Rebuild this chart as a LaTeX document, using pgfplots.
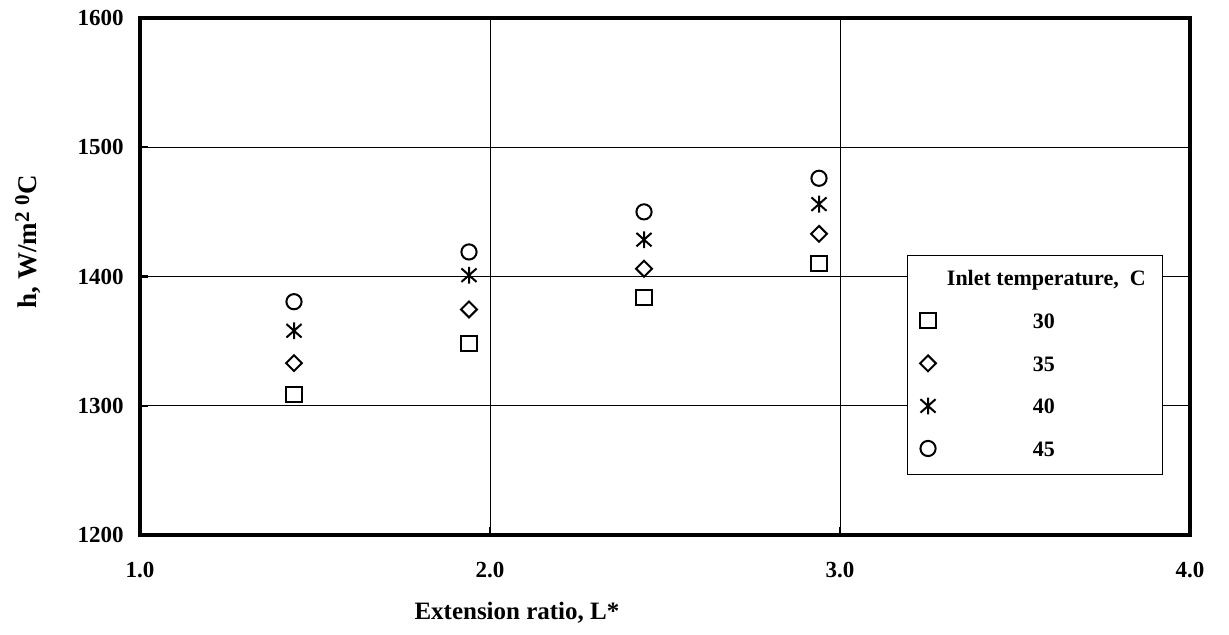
\documentclass[border=0pt]{standalone}
\usepackage{pgfplots}
\pgfplotsset{compat=1.18}
\usepackage{fontspec}
\setmainfont{Liberation Serif}
\pgfdeclareplotmark{xstar}{%
  \pgfpathmoveto{\pgfqpoint{0pt}{\pgfplotmarksize}}%
  \pgfpathlineto{\pgfqpoint{0pt}{-\pgfplotmarksize}}%
  \pgfpathmoveto{\pgfqpoint{-0.9\pgfplotmarksize}{0.8\pgfplotmarksize}}%
  \pgfpathlineto{\pgfqpoint{0.9\pgfplotmarksize}{-0.8\pgfplotmarksize}}%
  \pgfpathmoveto{\pgfqpoint{-0.9\pgfplotmarksize}{-0.8\pgfplotmarksize}}%
  \pgfpathlineto{\pgfqpoint{0.9\pgfplotmarksize}{0.8\pgfplotmarksize}}%
  \pgfusepathqstroke}
\newcommand{\sups}[1]{\raisebox{0.6ex}{\fontsize{10.5}{11}\selectfont #1}}
\begin{document}
\begin{tikzpicture}
\begin{axis}[
  scale only axis, width=525pt, height=258.5pt,
  xmin=1, xmax=4, ymin=1200, ymax=1600,
  xtick={1,2,3,4}, ytick={1200,1300,1400,1500,1600},
  grid=major, grid style={black, line width=0.5pt},
  axis line style={line width=2pt},
  tick pos=left, tick align=inside, major tick length=4pt,
  tick style={black, line width=1.2pt},
  /pgf/number format/assume math mode=true,
  tick label style={font=\fontsize{11.5}{13}\selectfont\bfseries},
  xticklabel style={/pgf/number format/.cd, fixed, fixed zerofill, precision=1, /tikz/.cd, yshift=-10pt},
  yticklabel style={/pgf/number format/1000 sep={}, xshift=-4.7pt},
  xlabel={Extension ratio, L*},
  xlabel style={font=\fontsize{12.5}{14}\selectfont\bfseries, at={(axis description cs:0.359,0)}, anchor=north, yshift=-30pt},
  ylabel={h, W/m\sups{2}\ \sups{0}C},
  ylabel style={font=\fontsize{13.5}{14}\selectfont\bfseries, at={(axis description cs:-0.1067,0.567)}, anchor=center},
  legend style={at={(axis cs:3.19,1416.6)}, anchor=north west, draw=black, line width=0.6pt, fill=white,
    inner xsep=6.5pt, inner ysep=5.5pt, row sep=8.5pt, column sep=3.5pt,
    font=\fontsize{11}{13}\selectfont\bfseries, cells={anchor=west}},
  legend image code/.code={\draw[#1] plot coordinates {(0pt,1pt)};},
  every axis plot/.append style={only marks, black, mark options={line width=1pt, fill=white}},
]
\addlegendimage{empty legend}
\addlegendentry{Inlet temperature,\ \ C}
\addplot[mark=square, mark size=3.8pt] coordinates {(1.44,1308.5) (1.94,1348) (2.44,1384) (2.94,1410)};
\addlegendentry{\hspace*{43pt}30}
\addplot[mark=square, mark size=2.8pt, mark options={rotate=45, line width=1pt}] coordinates {(1.44,1333) (1.94,1374.5) (2.44,1406) (2.94,1433)};
\addlegendentry{\hspace*{43pt}35}
\addplot[mark=xstar, mark size=4.2pt] coordinates {(1.44,1358) (1.94,1401) (2.44,1428.5) (2.94,1456)};
\addlegendentry{\hspace*{43pt}40}
\addplot[mark=o, mark size=3.8pt] coordinates {(1.44,1380.5) (1.94,1419) (2.44,1450) (2.94,1476)};
\addlegendentry{\hspace*{43pt}45}
\end{axis}
\pgfresetboundingbox
\path[use as bounding box] ([xshift=-70pt,yshift=-50pt]current axis.south west) rectangle ([xshift=19.5pt,yshift=9pt]current axis.north east);
\end{tikzpicture}
\end{document}
